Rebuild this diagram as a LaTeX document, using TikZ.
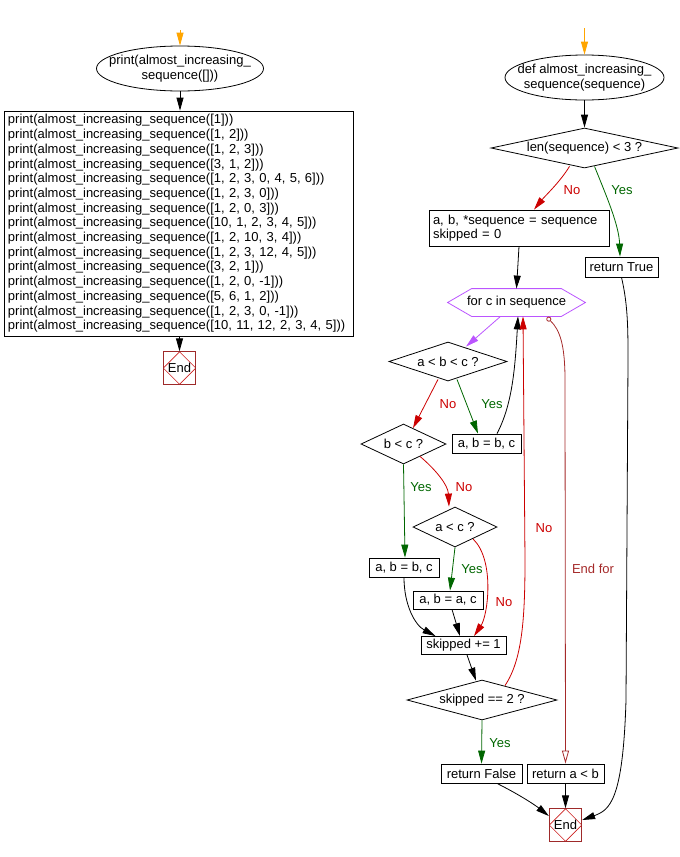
\documentclass[tikz,border=0pt]{standalone}
\usepackage{fontspec}
\setmainfont{Liberation Sans}
\usetikzlibrary{shapes.geometric,arrows.meta,calc}
\definecolor{noRed}{HTML}{CC0000}
\definecolor{yesGreen}{HTML}{006600}
\definecolor{loopViolet}{HTML}{BB55FF}
\definecolor{startOrange}{HTML}{FFA500}
\definecolor{endFrame}{HTML}{9E2A2A}
\definecolor{endDiam}{HTML}{CC2020}
\definecolor{endForBrown}{HTML}{A52A2A}
\begin{document}
\begin{tikzpicture}[x=1pt,y=-1pt,
  font=\fontsize{13}{14.7}\selectfont,
  line width=0.8pt,
  tip/.style={-{Triangle[length=13pt,width=7pt]}},
  flow/.style={tip,draw=black},
  noflow/.style={tip,draw=noRed},
  yesflow/.style={tip,draw=yesGreen},
  boxn/.style={draw,rectangle,inner sep=0pt},
  startell/.style={rectangle,inner sep=0pt,align=center},
  dec/.style={draw,diamond,inner sep=0pt,aspect=#1},
  endnode/.style={draw=endFrame,rectangle,minimum size=32.5pt,inner sep=0pt,
    path picture={\draw[endDiam,line width=0.7pt] (path picture bounding box.north) -- (path picture bounding box.east) -- (path picture bounding box.south) -- (path picture bounding box.west) -- cycle;}},
  lblno/.style={text=noRed,inner sep=1pt},
  lblyes/.style={text=yesGreen,inner sep=1pt}
]
\useasboundingbox (0,0) rectangle (680,857);

% ---------- left column ----------
\coordinate (s1) at (180,30);
\node[startell,minimum width=167pt,minimum height=45pt] (ell1) at (180,68.5) {print(almost\_increasing\_\\sequence([]))};
\draw (ell1.center) ellipse [x radius=83.5pt, y radius=22.5pt];
\node[boxn,minimum width=349pt,minimum height=225pt,text width=341pt,inner xsep=4pt,align=left] (box1) at (178.5,223.5) {%
print(almost\_increasing\_sequence([1]))\\
print(almost\_increasing\_sequence([1, 2]))\\
print(almost\_increasing\_sequence([1, 2, 3]))\\
print(almost\_increasing\_sequence([3, 1, 2]))\\
print(almost\_increasing\_sequence([1, 2, 3, 0, 4, 5, 6]))\\
print(almost\_increasing\_sequence([1, 2, 3, 0]))\\
print(almost\_increasing\_sequence([1, 2, 0, 3]))\\
print(almost\_increasing\_sequence([10, 1, 2, 3, 4, 5]))\\
print(almost\_increasing\_sequence([1, 2, 10, 3, 4]))\\
print(almost\_increasing\_sequence([1, 2, 3, 12, 4, 5]))\\
print(almost\_increasing\_sequence([3, 2, 1]))\\
print(almost\_increasing\_sequence([1, 2, 0, -1]))\\
print(almost\_increasing\_sequence([5, 6, 1, 2]))\\
print(almost\_increasing\_sequence([1, 2, 3, 0, -1]))\\
print(almost\_increasing\_sequence([10, 11, 12, 2, 3, 4, 5]))};
\node[endnode] (end1) at (179.5,368) {End};

\draw[tip,draw=startOrange] (s1) -- (ell1.north);
\draw[flow] (ell1.south) -- (ell1.south |- box1.north);
\draw[flow] (end1.north |- box1.south) -- (end1.north);

% ---------- right column ----------
\coordinate (s2) at (584.5,28);
\node[startell,minimum width=159pt,minimum height=45pt] (ell2) at (584.5,77.5) {def almost\_increasing\_\\sequence(sequence)};
\draw (ell2.center) ellipse [x radius=79.5pt, y radius=22.5pt];
\node[dec=4.675,minimum width=187pt,minimum height=40pt] (d1) at (584.5,148) {len(sequence) < 3 ?};
\node[boxn,minimum width=180pt,minimum height=36pt,text width=172pt,inner xsep=4pt,align=left] (box2) at (519,228) {a, b, *sequence = sequence\\skipped = 0};
\node[boxn,minimum width=73pt,minimum height=20pt] (rt) at (621.5,267) {return True};
\node[minimum width=137pt,minimum height=27pt,inner sep=0pt] (hex) at (516.5,302.5) {for c in sequence};
\draw[loopViolet] (hex.west) -- ($(hex.north west)+(24,0)$) -- ($(hex.north east)+(-24,0)$) -- (hex.east) -- ($(hex.south east)+(-24,0)$) -- ($(hex.south west)+(24,0)$) -- cycle;
\node[dec=3.03,minimum width=118pt,minimum height=39pt] (d2) at (448,361.5) {a < b < c ?};
\node[dec=2.125,minimum width=85pt,minimum height=40pt] (d3) at (403.5,444) {b < c ?};
\node[boxn,minimum width=69pt,minimum height=19pt] (box3) at (486.5,443.5) {a, b = b, c};
\node[dec=2.1,minimum width=84pt,minimum height=40pt] (d4) at (455,527) {a < c ?};
\node[boxn,minimum width=70pt,minimum height=19pt] (box5) at (404,567.5) {a, b = b, c};
\node[boxn,minimum width=70pt,minimum height=18pt] (box6) at (448,600) {a, b = a, c};
\node[boxn,minimum width=85pt,minimum height=18pt] (sk) at (463.5,645.5) {skipped += 1};
\node[dec=3.75,minimum width=150pt,minimum height=40pt] (d5) at (482,700) {skipped == 2 ?};
\node[boxn,minimum width=81pt,minimum height=19pt] (rf) at (481.5,773.5) {return False};
\node[boxn,minimum width=77pt,minimum height=19pt] (rab) at (565.5,773.5) {return a < b};
\node[endnode] (end2) at (565.5,825) {End};

% connectors
\draw[tip,draw=startOrange] (s2) -- (ell2.north);
\draw[flow] (ell2.south) -- (d1.north);
\draw[noflow] ($(d1.south)+(-15,-2)$) .. controls (560,182) and (545,196) .. ($(box2.north)+(15,0)$);
\draw[yesflow] ($(d1.south)+(10,-2)$) .. controls (606,195) and (619,225) .. ($(rt.north)+(-1.5,0)$);
\draw[flow] (box2.south) -- (hex.north);
\draw[tip,draw=loopViolet] ($(hex.south)+(-16,0)$) -- ($(d2.north)+(18,5)$);
\draw[noflow] ($(d2.south)+(-10,-2)$) -- ($(d3.north)+(9.5,4.5)$);
\draw[yesflow] ($(d2.south)+(9,-2)$) -- ($(box3.north)+(-8.5,0)$);
\draw[flow] ($(box3.north)+(10.5,0)$) .. controls (512,405) and (515,370) .. ($(hex.south)+(1.5,0)$);
\draw[yesflow] (d3.south) -- ($(box5.north)+(1,0)$);
\draw[noflow] ($(d3.south)+(16.5,-8)$) .. controls (436,470) and (448,485) .. ($(d4.north)+(-6,0)$);
\draw[yesflow] (d4.south) -- ($(box6.north)+(2,0)$);
\draw[noflow] ($(d4.south)+(18,-8.5)$) .. controls (495,560) and (488,615) .. ($(sk.north)+(10.5,0)$);
\draw[flow] (box5.south) .. controls (404,605) and (415,625) .. ($(sk.north)+(-28,0)$);
\draw[flow] ($(box6.south)+(4,0)$) -- ($(sk.north)+(-3.5,0)$);
\draw[flow] ($(sk.south)+(3.5,0)$) -- ($(d5.north)+(-6,1)$);
\draw[noflow] ($(d5.north)+(23,6)$) .. controls (522,660) and (525,620) .. (525,560) -- ($(hex.south)+(6.5,0)$);
\draw[yesflow] (d5.south) -- (rf.north);
\draw[draw=endForBrown,{Circle[open,length=5pt]}-{Triangle[open,length=13pt,width=7pt]}] ($(hex.south)+(30.5,1)$) .. controls (560,330) and (565,345) .. (565,380) -- (rab.north);
\draw[flow] (rt.south) .. controls (628,305) and (628,330) .. (628,360) -- (626,700) .. controls (623,800) and (610,810) .. ($(end2.east)+(0,-5)$);
\draw[flow] ($(rf.south)+(15.5,0)$) .. controls (520,795) and (535,805) .. ($(end2.west)+(0,-9)$);
\draw[flow] (rab.south) -- (end2.north);

% labels
\node[lblno] (lno1) at (572,190) {No};
\node[lblyes] (lyes1) at (622,190) {Yes};
\node[lblno] (lno2) at (448,404) {No};
\node[lblyes] (lyes2) at (492,404) {Yes};
\node[lblyes] (lyes3) at (421,487) {Yes};
\node[lblno] (lno3) at (464,487) {No};
\node[lblyes] (lyes4) at (472,569) {Yes};
\node[lblno] (lno4) at (504,602) {No};
\node[lblno] (lno5) at (544,528) {No};
\node[text=endForBrown,inner sep=1pt] (lendfor) at (593,569) {End for};
\node[lblyes] (lyes5) at (500,743) {Yes};
\end{tikzpicture}
\end{document}
